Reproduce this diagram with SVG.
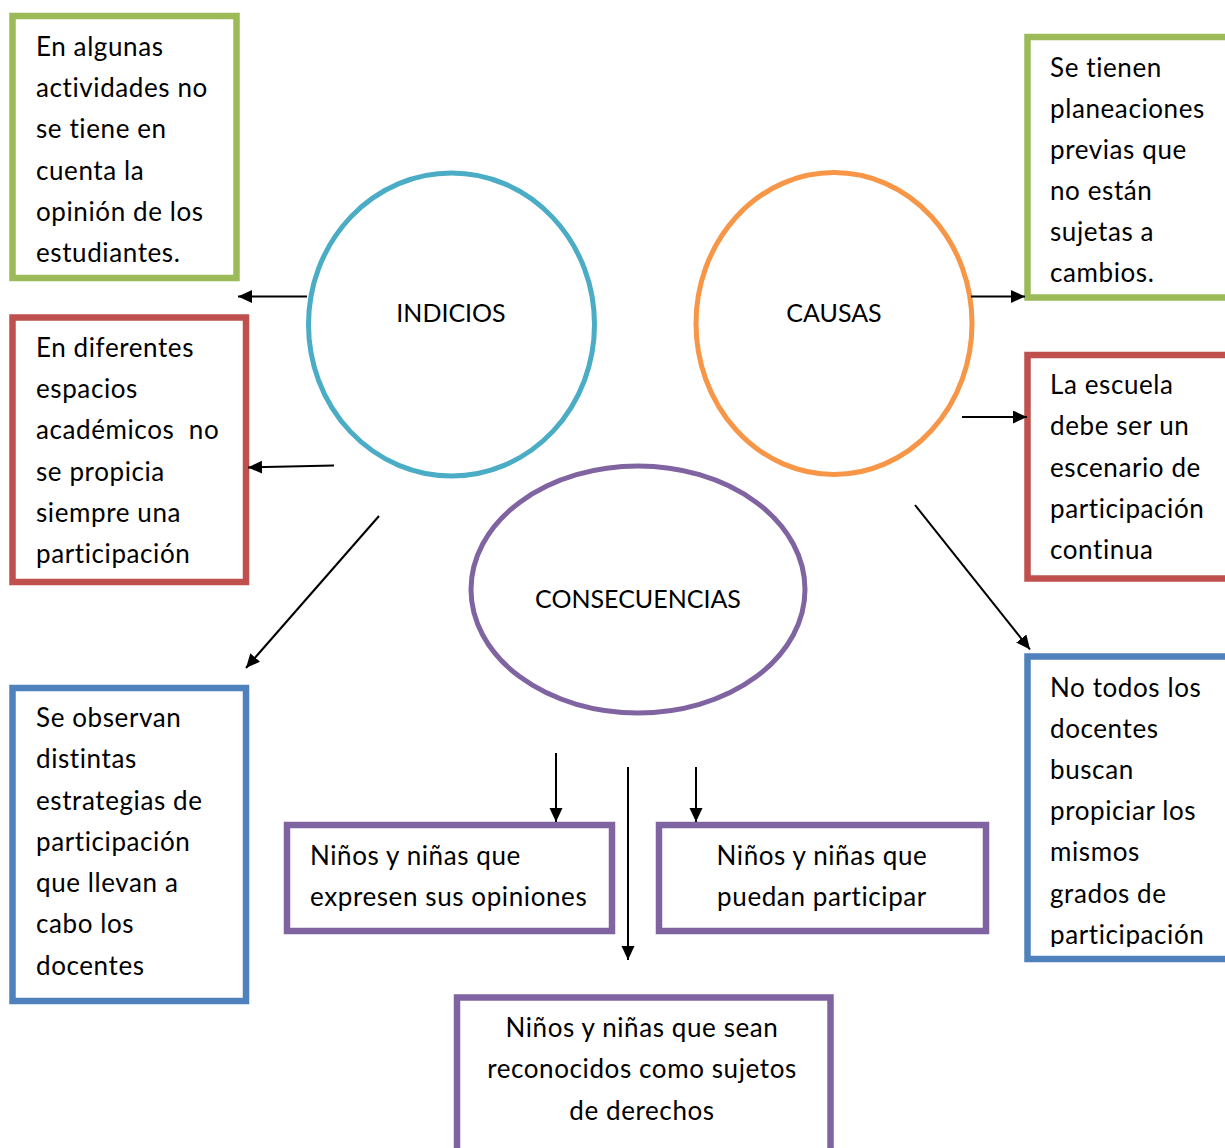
<svg xmlns="http://www.w3.org/2000/svg" width="1225" height="1148" viewBox="0 0 1225 1148">
<style>
.t{font-family:Lato,"Open Sans","Liberation Sans",sans-serif;font-size:26px;letter-spacing:0.6px;fill:#000}
.lbl{font-family:Lato,"Open Sans","Liberation Sans",sans-serif;font-size:25px;fill:#000;text-anchor:middle}
.c{text-anchor:middle}
.box{fill:#fff;stroke-width:6.5}
.g{stroke:#9BBB59}.r{stroke:#C0504D}.b{stroke:#4F81BD}.p{stroke:#8064A2}
.ell{fill:none;stroke-width:5}
.con line{stroke:#000;stroke-width:2;marker-end:url(#ah)}
</style>
<defs>
<marker id="ah" markerUnits="userSpaceOnUse" markerWidth="16" markerHeight="14" refX="14" refY="6.5" orient="auto">
<path d="M0,0 L14,6.5 L0,13 z" fill="#000"/>
</marker>
<clipPath id="clipR3"><rect x="1030" y="660" width="200" height="287"/></clipPath>
</defs>
<rect width="1225" height="1148" fill="#fff"/>

<g id="indicio1">
<rect class="box g" x="12.5" y="16" width="224" height="262"/>
<text class="t"><tspan x="36" y="56">En algunas</tspan><tspan x="36" y="97">actividades no</tspan><tspan x="36" y="138">se tiene en</tspan><tspan x="36" y="180">cuenta la</tspan><tspan x="36" y="221">opinión de los</tspan><tspan x="36" y="262">estudiantes.</tspan></text>
</g>

<g id="indicio2">
<rect class="box r" x="12.5" y="317.5" width="233.5" height="264.5"/>
<text class="t"><tspan x="36" y="357">En diferentes</tspan><tspan x="36" y="398">espacios</tspan><tspan x="36" y="439">académicos&#160; no</tspan><tspan x="36" y="481">se propicia</tspan><tspan x="36" y="522">siempre una</tspan><tspan x="36" y="563">participación</tspan></text>
</g>

<g id="indicio3">
<rect class="box b" x="12.5" y="688" width="233.5" height="313"/>
<text class="t"><tspan x="36" y="727">Se observan</tspan><tspan x="36" y="768">distintas</tspan><tspan x="36" y="810">estrategias de</tspan><tspan x="36" y="851">participación</tspan><tspan x="36" y="892">que llevan a</tspan><tspan x="36" y="933">cabo los</tspan><tspan x="36" y="975">docentes</tspan></text>
</g>

<g id="indicios">
<ellipse class="ell" cx="451.5" cy="324.5" rx="143" ry="151.5" stroke="#4BACC6"/>
<text class="lbl" x="451" y="322">INDICIOS</text>
</g>

<g id="causas">
<ellipse class="ell" cx="834" cy="323.5" rx="138" ry="151" stroke="#F79646"/>
<text class="lbl" x="834" y="322">CAUSAS</text>
</g>

<g id="consecuencias">
<ellipse class="ell" cx="638" cy="589.5" rx="167" ry="123.5" stroke="#8064A2"/>
<text class="lbl" x="638" y="608">CONSECUENCIAS</text>
</g>

<g id="causa1">
<rect class="box g" x="1027.5" y="37" width="210" height="260.5"/>
<text class="t"><tspan x="1050" y="77">Se tienen</tspan><tspan x="1050" y="118">planeaciones</tspan><tspan x="1050" y="159">previas que</tspan><tspan x="1050" y="200">no están</tspan><tspan x="1050" y="241">sujetas a</tspan><tspan x="1050" y="282">cambios.</tspan></text>
</g>

<g id="causa2">
<rect class="box r" x="1027.5" y="355" width="210" height="223.5"/>
<text class="t"><tspan x="1050" y="394">La escuela</tspan><tspan x="1050" y="435">debe ser un</tspan><tspan x="1050" y="477">escenario de</tspan><tspan x="1050" y="518">participación</tspan><tspan x="1050" y="559">continua</tspan></text>
</g>

<g id="causa3">
<rect class="box b" x="1027.5" y="656.5" width="210" height="302.5"/>
<text class="t" clip-path="url(#clipR3)"><tspan x="1050" y="697">No todos los</tspan><tspan x="1050" y="738">docentes</tspan><tspan x="1050" y="779">buscan</tspan><tspan x="1050" y="820">propiciar los</tspan><tspan x="1050" y="861">mismos</tspan><tspan x="1050" y="903">grados de</tspan><tspan x="1050" y="944">participación</tspan></text>
</g>

<g id="consecuencia1">
<rect class="box p" x="287" y="825" width="325" height="106"/>
<text class="t"><tspan x="310" y="865">Niños y niñas que</tspan><tspan x="310" y="906">expresen sus opiniones</tspan></text>
</g>

<g id="consecuencia2">
<rect class="box p" x="659" y="825" width="327" height="106"/>
<text class="t c"><tspan x="822" y="865">Niños y niñas que</tspan><tspan x="822" y="906">puedan participar</tspan></text>
</g>

<g id="consecuencia3">
<rect class="box p" x="457" y="997.5" width="373.5" height="170"/>
<text class="t c"><tspan x="642" y="1037">Niños y niñas que sean</tspan><tspan x="642" y="1078">reconocidos como sujetos</tspan><tspan x="642" y="1120">de derechos</tspan></text>
</g>

<g id="connectors" class="con">
<line x1="307" y1="296.5" x2="238" y2="296.5"/>
<line x1="334" y1="465.5" x2="248" y2="467.5"/>
<line x1="379" y1="516" x2="246" y2="668"/>
<line x1="971" y1="296.5" x2="1025" y2="296.5"/>
<line x1="962" y1="417" x2="1027" y2="417"/>
<line x1="915" y1="505" x2="1030" y2="649.5"/>
<line x1="556" y1="753" x2="556" y2="822"/>
<line x1="628" y1="767" x2="628" y2="960"/>
<line x1="696" y1="767" x2="696" y2="822"/>
</g>
</svg>
